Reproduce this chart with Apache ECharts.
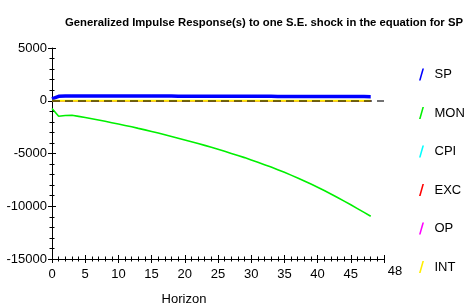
<!DOCTYPE html>
<html>
<head>
<meta charset="utf-8">
<script src="https://cdn.jsdelivr.net/npm/echarts@6/dist/echarts.min.js"></script>
<style>
html, body { margin: 0; padding: 0; background: #fff; }
#main { width: 465px; height: 308px; }
</style>
</head>
<body>
<div id="main"></div>
<script>
// horizon 0..48
var horizon = [0, 1, 2, 3, 4, 5, 6, 7, 8, 9, 10, 11, 12, 13, 14, 15, 16, 17, 18, 19, 20, 21, 22, 23, 24,
	25, 26, 27, 28, 29, 30, 31, 32, 33, 34, 35, 36, 37, 38, 39, 40, 41, 42, 43, 44, 45, 46, 47, 48];

var seriesNames = ['SP', 'MON', 'CPI', 'EXC', 'OP', 'INT'];
var seriesColors = ['#0000ff', '#00f000', '#00ffff', '#ff0000', '#ff00ff', '#ffee00'];

var sp = [180, 420, 440, 445, 450, 450, 450, 450, 450, 450, 450, 450, 450, 448, 446, 445, 444, 442, 440, 438,
	436, 435, 434, 432, 430, 428, 426, 425, 424, 422, 420, 418, 416, 415, 414, 412, 410, 408, 406, 405,
	404, 402, 400, 398, 396, 395, 394, 392, 390];
var mon = [-740, -1470, -1400, -1375, -1480, -1590, -1710, -1830, -1950, -2080, -2210, -2340, -2470, -2620,
	-2760, -2910, -3060, -3220, -3380, -3550, -3720, -3890, -4060, -4230, -4410, -4600, -4790, -4990,
	-5190, -5390, -5610, -5830, -6060, -6290, -6530, -6780, -7050, -7320, -7600, -7900, -8200, -8510,
	-8840, -9170, -9510, -9860, -10220, -10580, -10950];
var cpi = [0, 10, 10, 10, 10, 10, 10, 10, 10, 10, 10, 10, 10, 10, 10, 10, 10, 10, 10, 10, 10, 10, 10, 10, 10,
	10, 10, 10, 10, 10, 10, 10, 10, 10, 10, 10, 10, 10, 10, 10, 10, 10, 10, 10, 10, 10, 10, 10, 10];
var exc = [0, -10, -10, -10, -10, -10, -10, -10, -10, -10, -10, -10, -10, -10, -10, -10, -10, -10, -10, -10, -10, -10, -10, -10, -10,
	-10, -10, -10, -10, -10, -10, -10, -10, -10, -10, -10, -10, -10, -10, -10, -10, -10, -10, -10, -10, -10, -10, -10, -10];
var op = [0, 5, 5, 5, 5, 5, 5, 5, 5, 5, 5, 5, 5, 5, 5, 5, 5, 5, 5, 5, 5, 5, 5, 5, 5,
	5, 5, 5, 5, 5, 5, 5, 5, 5, 5, 5, 5, 5, 5, 5, 5, 5, 5, 5, 5, 5, 5, 5, 5];
var intr = [0, 0, 0, 0, 0, 0, 0, 0, 0, 0, 0, 0, 0, 0, 0, 0, 0, 0, 0, 0, 0, 0, 0, 0, 0,
	0, 0, 0, 0, 0, 0, 0, 0, 0, 0, 0, 0, 0, 0, 0, 0, 0, 0, 0, 0, 0, 0, 0, 0];

var xTicks = [0, 5, 10, 15, 20, 25, 30, 35, 40, 45];
var yTicks = [5000, 0, -5000, -10000, -15000];
var lastHorizon = 48;

var fontName = "'Liberation Sans', Arial, sans-serif";

function pairs(vals) {
	var out = [];
	for (var i = 0; i < horizon.length; i++) {
		out.push([horizon[i], vals[i]]);
	}
	return out;
}

var allValues = [sp, mon, cpi, exc, op, intr];
var widths = [3.5, 1.6, 1.5, 1.5, 1.5, 2];
var series = [];
for (var s = 0; s < seriesNames.length; s++) {
	var item = {
		name: seriesNames[s],
		type: 'line',
		showSymbol: false,
		symbol: 'none',
		lineStyle: { color: seriesColors[s], width: widths[s] },
		itemStyle: { color: seriesColors[s] },
		data: pairs(allValues[s])
	};
	series.push(item);
}
// dashed zero line on top
series[5].markLine = {
	silent: true,
	symbol: 'none',
	label: { show: false },
	lineStyle: { color: 'rgba(0,0,0,0.55)', type: [8, 5], width: 2 },
	data: [{ yAxis: 0 }]
};

var slash = 'path://M0,12L1.6,12L5,0L3.4,0Z';
var legendData = [];
for (var k = 0; k < seriesNames.length; k++) {
	legendData.push({ name: seriesNames[k], icon: slash, itemStyle: { color: seriesColors[k] } });
}

var xMin = xTicks[0];
var yMin = yTicks[yTicks.length - 1];
var yMax = yTicks[0];

var option = {
	animation: false,
	title: {
		text: 'Generalized Impulse Response(s) to one S.E. shock in the equation for SP',
		left: 60,
		top: 12,
		textStyle: { fontFamily: fontName, fontWeight: 'bold', fontSize: 11.3, color: '#000' }
	},
	legend: {
		orient: 'vertical',
		left: 414,
		top: 63,
		itemWidth: 16,
		itemHeight: 12,
		itemGap: 25.5,
		textStyle: { fontFamily: fontName, fontSize: 13, color: '#000' },
		data: legendData
	},
	grid: { left: 52, top: 48, width: 332, height: 211, outerBoundsMode: 'none', containLabel: false },
	xAxis: [{
		type: 'value',
		min: xMin,
		max: 50,
		interval: 5,
		position: 'bottom',
		axisLine: { onZero: false, lineStyle: { color: '#000', width: 1 } },
		axisTick: { length: 4, lineStyle: { color: '#000' } },
		minorTick: { show: true, splitNumber: 5, length: 2.5, lineStyle: { color: '#000' } },
		splitLine: { show: false },
		axisLabel: {
			margin: 9,
			color: '#000',
			fontFamily: fontName,
			fontSize: 13,
			formatter: function(v) {
				if (v === 50) return '{e|' + lastHorizon + '}';
				return xTicks.indexOf(v) >= 0 ? String(v) : '';
			},
			rich: { e: { fontFamily: fontName, fontSize: 13, color: '#000', lineHeight: 7, padding: [0, 0, 0, 22] } }
		},
		name: 'Horizon',
		nameLocation: 'middle',
		nameGap: 34,
		nameTextStyle: { fontFamily: fontName, fontSize: 13, color: '#000', padding: [0, 68, 0, 0] }
	}, {
		type: 'value',
		min: xMin,
		max: 50,
		interval: 5,
		position: 'bottom',
		axisLine: { show: false, onZero: false },
		axisTick: { inside: true, length: 4, lineStyle: { color: '#000' } },
		minorTick: { show: true, splitNumber: 5, length: 2.5, lineStyle: { color: '#000' } },
		splitLine: { show: false },
		axisLabel: { show: false }
	}],
	yAxis: [{
		type: 'value',
		min: yMin,
		max: yMax,
		interval: 5000,
		position: 'left',
		axisLine: { onZero: false, lineStyle: { color: '#000', width: 1 } },
		axisTick: { length: 4, lineStyle: { color: '#000' } },
		minorTick: { show: true, splitNumber: 5, length: 2.5, lineStyle: { color: '#000' } },
		splitLine: { show: false },
		axisLabel: {
			margin: 5, color: '#000', fontFamily: fontName, fontSize: 13,
			formatter: function(v) { return String(v); }
		}
	}, {
		type: 'value',
		min: yMin,
		max: yMax,
		interval: 5000,
		position: 'left',
		axisLine: { show: false, onZero: false },
		axisTick: { inside: true, length: 4, lineStyle: { color: '#000' } },
		minorTick: { show: true, splitNumber: 5, length: 2.5, lineStyle: { color: '#000' } },
		splitLine: { show: false },
		axisLabel: { show: false }
	}],
	series: series
};

var myChart = echarts.init(document.getElementById('main'));
myChart.setOption(option);
</script>
</body>
</html>
